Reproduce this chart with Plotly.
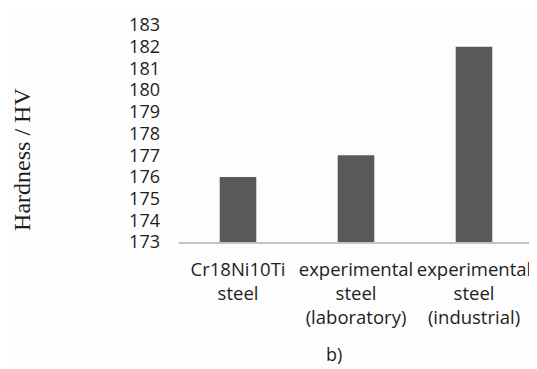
import plotly.graph_objects as go

categories = ["Cr18Ni10Ti<br>steel", "experimental<br>steel<br>(laboratory)", "experimental<br>steel<br>(industrial)"]
hardness = [176, 177, 182]
y_ticks = list(range(173, 184))
axis_base = 173

# page body has an 8px default margin; figure sized to fit the window
OFF = 8
W, H = 537 - OFF, 369 - OFF
l, r, t, b = 179 - OFF, 4, 20 - OFF, 369 - 242
pw, ph = W - l - r, H - t - b

fig = go.Figure(go.Bar(
    x=categories, y=[v - axis_base for v in hardness], base=axis_base,
    marker=dict(color="#595959", line=dict(width=0)),
    width=0.31,
))

fig.update_layout(
    width=W, height=H,
    margin=dict(l=l, r=r, t=t, b=b),
    paper_bgcolor="#fdfdfd", plot_bgcolor="#fdfdfd",
    showlegend=False,
    font=dict(family="Open Sans", color="#1e1e1e"),
    xaxis=dict(
        showline=True, linecolor="#c4c4c4", linewidth=1.5,
        ticks="", tickfont=dict(size=18.5, family="Open Sans", color="#1e1e1e"),
        ticklabelstandoff=10,
    ),
    yaxis=dict(
        range=[173, 183.002], tickvals=y_ticks, showgrid=False, zeroline=False,
        showline=False, ticks="", ticklabelstandoff=18,
        ticklabeloverflow="allow",
        tickfont=dict(size=18, family="Open Sans", color="#1e1e1e"),
    ),
)

def ann(text, wx, wy, **kw):
    # wx, wy: window pixel coords
    fx, fy = wx - OFF, wy - OFF
    fig.add_annotation(text=text, x=(fx - l) / pw, y=(H - b - fy) / ph,
                       xref="paper", yref="paper", showarrow=False,
                       xanchor="center", yanchor="middle", **kw)

ann("Hardness / HV", 22, 158, textangle=-90,
    font=dict(family="Liberation Serif", size=24, color="#1e1e1e"))
ann("b)", 334, 357, font=dict(family="Open Sans", size=18, color="#1e1e1e"))

fig.write_html("out.html")
